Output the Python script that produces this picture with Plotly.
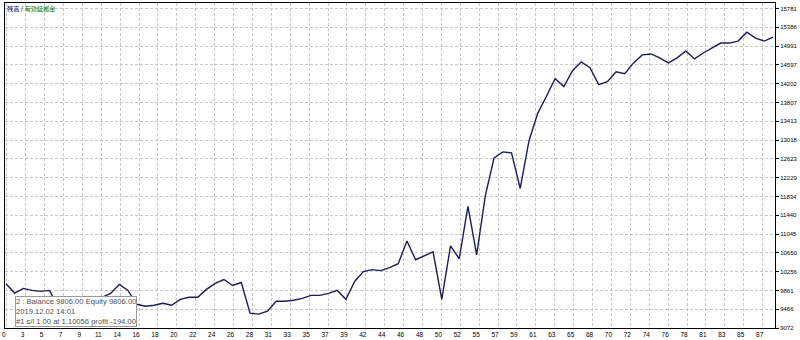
import plotly.graph_objects as go

# Balance per trade (trade index 0..88)
trade_index = list(range(89))
balance = [
    10000, 9806, 9903, 9861, 9840, 9861, 9508, 9529, 9654, 9570,
    9633, 9716, 9799, 9986, 9861, 9570, 9529, 9550, 9591, 9550,
    9674, 9716, 9716, 9882, 10007, 10090, 9965, 10027, 9384, 9363,
    9425, 9633, 9633, 9654, 9695, 9757, 9757, 9799, 9861, 9674,
    10048, 10256, 10297, 10277, 10339, 10422, 10900, 10505, 10588, 10671,
    9674, 10796, 10526, 11627, 10609, 11855, 12644, 12769, 12748, 12001,
    12998, 13579, 13932, 14306, 14140, 14472, 14659, 14535, 14181, 14244,
    14451, 14410, 14638, 14805, 14825, 14742, 14638, 14742, 14888, 14721,
    14846, 14950, 15054, 15054, 15095, 15282, 15158, 15095, 15178,
]

y_tick_labels = [9072, 9466, 9861, 10256, 10650, 11045, 11440, 11834, 12229,
                 12623, 13018, 13413, 13807, 14202, 14597, 14991, 15386, 15781]

x_tick_labels = ["0", "3", "5", "7", "9", "11", "14", "16", "18", "20", "22", "24",
                 "26", "28", "31", "33", "35", "37", "39", "42", "44", "46", "48",
                 "50", "52", "55", "57", "59", "61", "63", "65", "68", "70", "72",
                 "74", "76", "78", "81", "83", "85", "87"]

title_part1 = "残高"
title_part2 = "有効証拠金"
tooltip_lines = ["2 : Balance 9806.00 Equity 9806.00",
                 "2019.12.02 14:01",
                 "#1 s/l 1.00 at 1.10056 profit -194.00"]

grid_step = 2.168
x_tick_pos = [0.09 + k * grid_step for k in range(len(x_tick_labels))]

fig = go.Figure()
fig.add_trace(go.Scatter(
    x=trade_index, y=balance, mode="lines",
    line=dict(color="#1c1c5c", width=1.4),
    hoverinfo="skip", showlegend=False,
))

grid_color = "#c8c8c8"
fig.update_layout(
    width=800, height=340,
    margin=dict(l=2, r=25, t=2, b=9),
    paper_bgcolor="white", plot_bgcolor="white",
    font=dict(family="Liberation Sans, Arial, sans-serif", size=6, color="black"),
    xaxis=dict(
        range=[-0.114, 88.23],
        tickvals=x_tick_pos, ticktext=x_tick_labels,
        showgrid=True, gridcolor=grid_color, griddash="3px,2px", gridwidth=1,
        showline=True, linecolor="black", linewidth=1, mirror=True,
        ticks="", ticklabelshift=-3, ticklabelstandoff=0,
        ticklabeloverflow="allow",
        tickfont=dict(size=6.5, color="black"),
        zeroline=False, fixedrange=True,
    ),
    yaxis=dict(
        range=[9072, 15895],
        side="right",
        tickvals=y_tick_labels, ticktext=[str(v) for v in y_tick_labels],
        showgrid=True, gridcolor=grid_color, griddash="3px,2px", gridwidth=1,
        showline=True, linecolor="black", linewidth=1, mirror=True,
        ticks="outside", ticklen=3, tickcolor="black",
        tickfont=dict(size=6, color="black"),
        zeroline=False, fixedrange=True,
    ),
)

fig.add_annotation(
    xref="paper", yref="paper", x=0.0, y=1.003, xanchor="left", yanchor="top",
    text=(f"<span style='color:#000060'>{title_part1}</span>"
          f"<span style='color:#000060'> / </span>"
          f"<span style='color:#008000'>{title_part2}</span>"),
    showarrow=False,
    font=dict(family="Noto Sans CJK JP", size=6.2),
)

fig.add_annotation(
    xref="paper", yref="paper", x=0.0129, y=0.004, xanchor="left", yanchor="bottom",
    text="<br>".join(tooltip_lines), align="left",
    showarrow=False,
    font=dict(family="Liberation Sans, Arial, sans-serif", size=7.6, color="#505050"),
    bgcolor="white", bordercolor="#9a9a9a", borderwidth=1, borderpad=0,
)

fig.write_html("out.html")
